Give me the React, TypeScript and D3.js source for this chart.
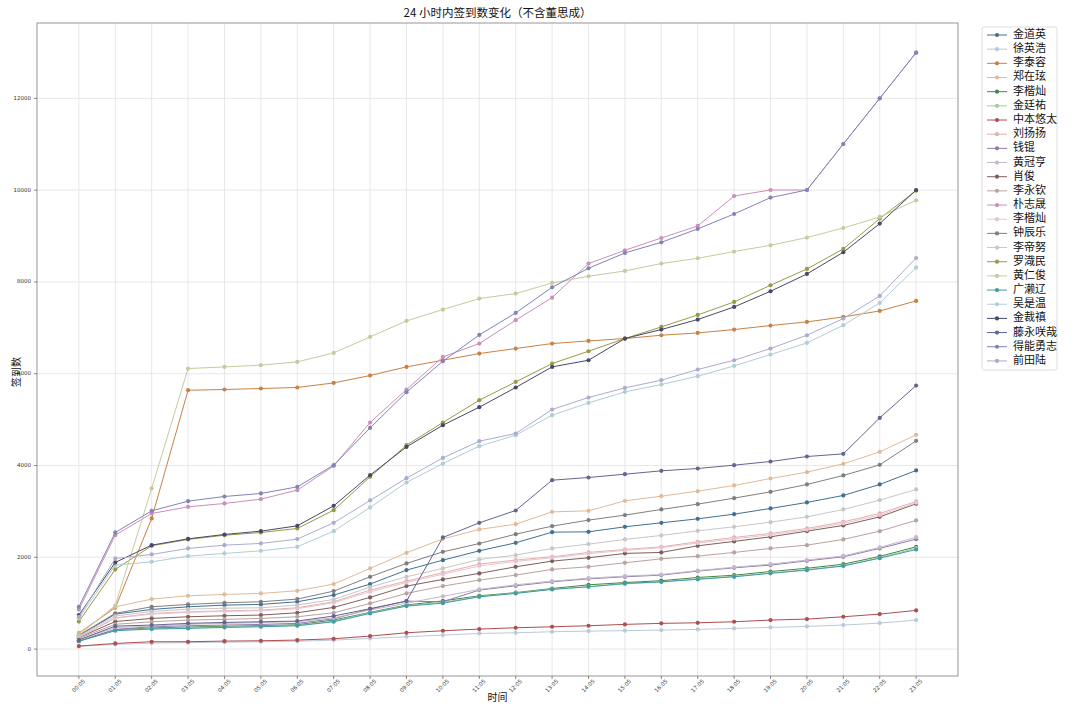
import React from "react";
import * as d3 from "d3";

const times = ["00:05","01:05","02:05","03:05","04:05","05:05","06:05","07:05","08:05","09:05","10:05","11:05","12:05","13:05","14:05","15:05","16:05","17:05","18:05","19:05","20:05","21:05","22:05","23:05"];

const names = ["金道英","徐英浩","李泰容","郑在玹","李楷灿","金廷祐","中本悠太","刘扬扬","钱锟","黄冠亨","肖俊","李永钦","朴志晟","李楷灿","钟辰乐","李帝努","罗渽民","黄仁俊","广濑辽","吴是温","金裁禛","藤永咲哉","得能勇志","前田陆"];

const baseColors = ["#1f77b4","#aec7e8","#ff7f0e","#ffbb78","#2ca02c","#98df8a","#d62728","#ff9896","#9467bd","#c5b0d5","#8c564b","#c49c94","#e377c2","#f7b6d2","#7f7f7f","#c7c7c7","#bcbd22","#dbdb8d","#17becf","#9edae5","#393b79","#5254a3","#6b6ecf","#9c9ede"];

const kimDoyoung = [290, 762, 864, 921, 958, 973, 1031, 1176, 1416, 1721, 1938, 2141, 2315, 2548, 2555, 2664, 2751, 2838, 2940, 3064, 3195, 3348, 3587, 3892];
const johnny = [60, 100, 130, 140, 150, 160, 170, 195, 232, 268, 305, 341, 355, 377, 392, 400, 414, 428, 450, 472, 494, 523, 566, 632];
const taeyong = [350, 900, 2846, 5641, 5656, 5678, 5700, 5800, 5961, 6149, 6294, 6440, 6549, 6658, 6715, 6767, 6839, 6889, 6963, 7050, 7129, 7238, 7368, 7586];
const jaehyun = [341, 921, 1089, 1161, 1191, 1213, 1270, 1416, 1758, 2098, 2400, 2607, 2722, 2990, 3012, 3230, 3332, 3441, 3565, 3717, 3855, 4036, 4297, 4668];
const haechanA = [180, 420, 460, 480, 495, 510, 530, 632, 800, 960, 1050, 1160, 1230, 1320, 1400, 1450, 1490, 1560, 1610, 1690, 1760, 1850, 2020, 2228];
const jungwoo = [175, 410, 445, 465, 480, 495, 515, 610, 790, 945, 1020, 1145, 1220, 1305, 1360, 1420, 1460, 1530, 1585, 1660, 1730, 1820, 1990, 2200];
const yuta = [65, 123, 160, 160, 174, 181, 196, 225, 283, 355, 399, 436, 464, 486, 508, 538, 560, 573, 595, 632, 653, 704, 762, 843];
const liuYangyang = [260, 680, 777, 812, 834, 849, 900, 1031, 1285, 1481, 1663, 1851, 1940, 2011, 2106, 2171, 2228, 2337, 2433, 2520, 2628, 2773, 2955, 3217];
const kun = [174, 430, 486, 508, 523, 537, 560, 660, 871, 1045, 1031, 1285, 1379, 1466, 1531, 1575, 1612, 1699, 1771, 1830, 1923, 2011, 2193, 2395];
const hendery = [190, 470, 500, 540, 560, 575, 600, 680, 850, 1000, 1150, 1300, 1400, 1480, 1545, 1590, 1625, 1710, 1785, 1850, 1940, 2030, 2215, 2439];
const xiaojun = [250, 600, 668, 704, 726, 741, 791, 908, 1126, 1372, 1518, 1649, 1793, 1917, 1989, 2084, 2106, 2250, 2346, 2446, 2570, 2694, 2881, 3166];
const ten = [230, 540, 595, 632, 647, 668, 704, 791, 995, 1213, 1372, 1503, 1612, 1736, 1793, 1880, 1967, 2025, 2106, 2193, 2265, 2389, 2570, 2804];
const jisung = [860, 2483, 2955, 3099, 3173, 3267, 3463, 3990, 4937, 5656, 6366, 6658, 7166, 7660, 8400, 8690, 8958, 9220, 9873, 10004, 10004, 11006, 12001, 12996];
const haechanB = [255, 670, 760, 800, 820, 835, 880, 1010, 1250, 1450, 1630, 1810, 1910, 1990, 2080, 2150, 2210, 2310, 2400, 2490, 2600, 2740, 2920, 3190];
const chenle = [300, 780, 921, 973, 1009, 1031, 1089, 1263, 1575, 1866, 2119, 2300, 2504, 2679, 2810, 2919, 3043, 3158, 3289, 3426, 3587, 3783, 4014, 4537];
const jeno = [280, 720, 820, 870, 890, 900, 960, 1080, 1350, 1575, 1757, 1953, 2047, 2193, 2287, 2389, 2476, 2577, 2664, 2766, 2881, 3042, 3245, 3478];
const jaemin = [600, 1736, 2250, 2390, 2480, 2540, 2628, 3027, 3753, 4443, 4937, 5423, 5822, 6222, 6490, 6767, 7020, 7281, 7564, 7928, 8283, 8719, 9380, 9990];
const renjun = [300, 950, 3500, 6113, 6149, 6186, 6258, 6454, 6802, 7150, 7399, 7638, 7747, 7978, 8124, 8240, 8400, 8516, 8662, 8799, 8967, 9176, 9416, 9779];
const shotaro = [170, 400, 436, 450, 472, 486, 508, 595, 777, 936, 1000, 1139, 1213, 1300, 1357, 1430, 1466, 1520, 1575, 1650, 1720, 1810, 1980, 2170];
const sion = [670, 1830, 1901, 2025, 2084, 2141, 2228, 2570, 3086, 3630, 4043, 4421, 4660, 5097, 5364, 5604, 5765, 5946, 6170, 6418, 6671, 7057, 7542, 8312];
const jaehee = [740, 1888, 2265, 2402, 2497, 2570, 2686, 3121, 3790, 4406, 4879, 5271, 5700, 6149, 6294, 6767, 6963, 7181, 7455, 7797, 8174, 8647, 9271, 10004];
const sakuya = [200, 500, 523, 560, 581, 595, 610, 720, 880, 1045, 2432, 2751, 3020, 3680, 3739, 3811, 3884, 3935, 4008, 4087, 4196, 4254, 5038, 5742];
const yushi = [920, 2541, 3012, 3223, 3325, 3391, 3535, 4008, 4820, 5597, 6273, 6846, 7325, 7884, 8298, 8632, 8864, 9155, 9481, 9838, 10004, 11006, 12001, 12996];
const riku = [700, 1975, 2062, 2193, 2265, 2302, 2396, 2751, 3239, 3724, 4166, 4530, 4698, 5220, 5482, 5691, 5859, 6092, 6294, 6549, 6839, 7203, 7695, 8520];

const seriesValues = [kimDoyoung, johnny, taeyong, jaehyun, haechanA, jungwoo, yuta, liuYangyang, kun, hendery, xiaojun, ten, jisung, haechanB, chenle, jeno, jaemin, renjun, shotaro, sion, jaehee, sakuya, yushi, riku];

const yTicks = [0, 2000, 4000, 6000, 8000, 10000, 12000];

const W = 1080, H = 711;
const plot = { left: 37, right: 958, top: 23, bottom: 676 };

function muted(c: string) {
  const h = d3.hsl(c);
  h.s = h.s * 0.55;
  return h.formatHex();
}

export default function App() {
  const allVals = seriesValues.flat();
  const [mn, mx] = d3.extent(allVals) as [number, number];
  const pad = (mx - mn) * 0.05;
  const y = d3.scaleLinear().domain([mn - pad, mx + pad]).range([plot.bottom, plot.top]);
  const n = times.length;
  const xPad = (n - 1) * 0.05;
  const x = d3.scaleLinear().domain([-xPad, n - 1 + xPad]).range([plot.left, plot.right]);
  const line = d3.line<number>().x((_, i) => x(i)).y((d) => y(d));
  const colors = baseColors.map(muted);
  const cjk = "'Noto Sans CJK SC', 'Noto Sans', sans-serif";
  const tickFont = "'DejaVu Sans', sans-serif";

  const legX = 982, legY = 27, legW = 75, legStep = 14.17;

  return (
    <svg width={W} height={H} style={{ position: "absolute", left: 0, top: 0, background: "#fff" }}>
      <rect x={0} y={0} width={W} height={H} fill="#fff" />
      {times.map((t, i) => (
        <line key={"gx" + i} x1={x(i)} x2={x(i)} y1={plot.top} y2={plot.bottom} stroke="#e2e2e6" strokeWidth={0.8} />
      ))}
      {yTicks.map((v) => (
        <line key={"gy" + v} x1={plot.left} x2={plot.right} y1={y(v)} y2={y(v)} stroke="#e2e2e6" strokeWidth={0.8} />
      ))}
      {seriesValues.map((vals, si) => (
        <g key={"s" + si}>
          <path d={line(vals) || ""} fill="none" stroke={colors[si]} strokeWidth={1} />
          {vals.map((v, i) => (
            <circle key={i} cx={x(i)} cy={y(v)} r={2.1} fill={colors[si]} />
          ))}
        </g>
      ))}
      <rect x={plot.left} y={plot.top} width={plot.right - plot.left} height={plot.bottom - plot.top} fill="none" stroke="#8a8a8a" strokeWidth={0.9} />
      {yTicks.map((v) => (
        <g key={"yt" + v}>
          <line x1={plot.left - 3} x2={plot.left} y1={y(v)} y2={y(v)} stroke="#555" strokeWidth={0.7} />
          <text x={plot.left - 6} y={y(v)} textAnchor="end" dominantBaseline="middle" fontSize={5.5} fontFamily={tickFont} fill="#333">{v}</text>
        </g>
      ))}
      {times.map((t, i) => (
        <g key={"xt" + i}>
          <line x1={x(i)} x2={x(i)} y1={plot.bottom} y2={plot.bottom + 3} stroke="#555" strokeWidth={0.7} />
          <text transform={`translate(${x(i)},${plot.bottom + 10}) rotate(-45)`} textAnchor="middle" dominantBaseline="middle" fontSize={5.5} fontFamily={tickFont} fill="#333">{t}</text>
        </g>
      ))}
      <text x={(plot.left + plot.right) / 2} y={17} textAnchor="middle" fontSize={11.5} fontFamily={cjk} fill="#111">24 小时内签到数变化（不含董思成）</text>
      <text x={(plot.left + plot.right) / 2} y={701} textAnchor="middle" fontSize={10} fontFamily={cjk} fill="#111">时间</text>
      <text transform={`translate(17,372) rotate(-90)`} textAnchor="middle" dominantBaseline="middle" fontSize={10} fontFamily={cjk} fill="#111">签到数</text>
      <rect x={legX} y={legY} width={legW} height={343} rx={2} fill="#fff" fillOpacity={0.85} stroke="#d4d4d4" strokeWidth={0.8} />
      {names.map((nm, i) => {
        const ly = legY + 8 + i * legStep;
        return (
          <g key={"lg" + i}>
            <line x1={legX + 5} x2={legX + 25} y1={ly} y2={ly} stroke={colors[i]} strokeWidth={1} />
            <circle cx={legX + 15} cy={ly} r={2.1} fill={colors[i]} />
            <text x={legX + 31} y={ly} dominantBaseline="middle" fontSize={11} fontFamily={cjk} fill="#111">{nm}</text>
          </g>
        );
      })}
    </svg>
  );
}
